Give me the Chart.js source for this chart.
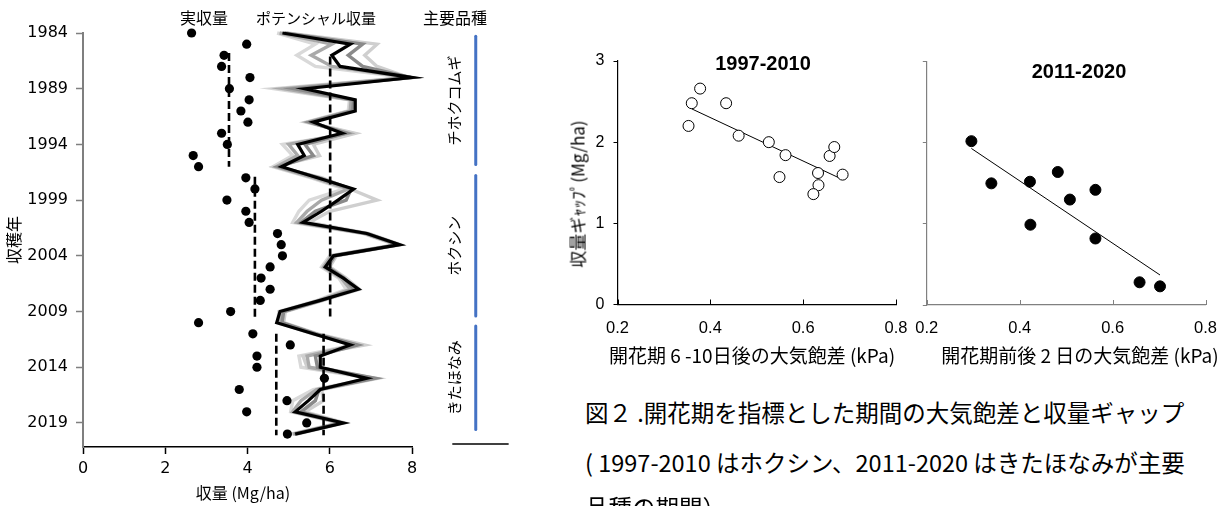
<!DOCTYPE html>
<html>
<head>
<meta charset="utf-8">
<script src="https://cdn.jsdelivr.net/npm/chart.js@4.4.1/dist/chart.umd.min.js"></script>
<style>
  html, body { margin: 0; padding: 0; background: #fff; }
  body { width: 1223px; height: 506px; position: relative; overflow: hidden;
         font-family: "Noto Sans CJK JP", "Liberation Sans", sans-serif; color: #000; }
  canvas { position: absolute; }
  .t { position: absolute; white-space: nowrap; line-height: 1; transform: translate(-50%, -50%); }
  .r { position: absolute; white-space: nowrap; line-height: 1; transform: translate(-50%, -50%) rotate(-90deg); }
  .cap { position: absolute; left: 585px; white-space: nowrap; line-height: 1; font-size: 23.5px;
         transform: translateY(-50%); }
  .num { font-family: "Liberation Sans", Arial, sans-serif; font-weight: bold; font-size: 20px; }
</style>
</head>
<body>
<canvas id="yield" width="520" height="506" style="left:0;top:0"></canvas>
<canvas id="gap9710" width="380" height="330" style="left:540px;top:40px"></canvas>
<canvas id="gap1120" width="343" height="330" style="left:880px;top:40px"></canvas>

<div class="t" style="left:204px;top:17px;font-size:16px">実収量</div>
<div class="t" style="left:316px;top:17px;font-size:15px">ポテンシャル収量</div>
<div class="t" style="left:455px;top:17px;font-size:16px">主要品種</div>
<div class="r" style="left:13px;top:240px;font-size:16px">収穫年</div>
<div class="t" style="left:243px;top:492px;font-size:16px">収量 (Mg/ha)</div>

<div class="t num" style="left:763px;top:63px">1997-2010</div>
<div class="t num" style="left:1079px;top:71px">2011-2020</div>
<div class="r" style="left:577px;top:194px;font-size:17px">収量ギｬｯﾌﾟ(Mg/ha)</div>
<div class="t" style="left:752px;top:354px;font-size:19px">開花期 6 -10日後の大気飽差 (kPa)</div>
<div class="t" style="left:1080px;top:354px;font-size:19px">開花期前後 2 日の大気飽差 (kPa)</div>

<div class="cap" style="top:413px">図２ .開花期を指標とした期間の大気飽差と収量ギャップ</div>
<div class="cap" style="top:463px">( 1997-2010 はホクシン、2011-2020 はきたほなみが主要</div>
<div class="cap" style="top:508px">品種の期間）</div>

<script>
// ---- Harvest years and yields (Mg/ha) ----
const years = [1984,1985,1986,1987,1988,1989,1990,1991,1992,1993,1994,1995,1996,1997,1998,1999,2000,2001,2002,
               2003,2004,2005,2006,2007,2008,2009,2010,2011,2012,2013,2014,2015,2016,2017,2018,2019,2020];
const yearTicks = [1984,1989,1994,1999,2004,2009,2014,2019];
const yieldTicks = [0,2,4,6,8];

const actualYield = [2.64,3.98,3.43,3.37,4.06,3.56,4.04,3.84,4.01,3.37,3.51,2.68,2.81,3.96,4.18,3.50,3.96,4.04,4.73,
                     4.82,4.85,4.55,4.33,4.55,4.31,3.59,2.81,4.13,5.04,4.23,4.23,5.87,3.80,4.96,3.98,5.44,4.97];

// potential yield (main estimate)
const potentialYield = [4.85,6.50,6.05,6.25,8.00,5.40,6.62,6.62,5.60,6.30,5.22,5.38,4.83,5.70,6.58,6.20,5.80,5.35,6.90,
                        7.70,6.09,5.89,6.33,6.70,5.77,4.79,4.71,5.60,6.50,5.77,5.77,6.90,5.77,5.48,5.16,6.33,5.16];
// potential yield under alternative parameter settings
const potentialAltA = [4.72,5.65,5.20,5.65,7.90,4.65,6.48,6.45,5.42,6.55,4.85,5.10,4.62,5.55,6.35,5.50,5.25,5.10,6.82,
                       7.60,6.00,5.80,6.22,6.40,5.70,4.76,4.74,5.58,6.58,5.25,5.30,7.00,5.60,5.10,5.05,6.22,5.05];
const potentialAltB = [4.78,6.05,5.55,6.05,7.95,4.90,6.52,6.50,5.48,6.45,5.00,5.22,4.70,5.62,6.45,5.80,5.45,5.20,6.86,
                       7.64,6.04,5.85,6.28,6.50,5.74,4.82,4.78,5.62,6.62,5.45,5.50,7.05,5.68,5.30,5.10,6.26,5.10];
const potentialAltC = [4.90,6.80,6.45,6.80,7.98,5.15,6.58,6.56,5.52,6.40,5.40,5.60,4.76,5.75,6.52,6.40,5.65,5.30,6.92,
                       7.68,6.12,5.95,6.35,6.60,5.80,4.88,4.84,5.66,6.68,5.65,5.70,7.10,5.74,5.65,5.30,6.30,5.14];
const potentialAltD = [4.95,7.15,6.85,7.15,7.92,4.80,6.50,6.48,5.46,6.62,5.60,5.75,4.68,5.82,6.50,7.15,6.00,5.50,6.96,
                       7.72,6.16,6.00,6.40,6.72,5.84,4.92,4.88,5.70,6.85,5.35,5.45,7.15,5.80,5.85,5.40,6.36,5.20];

// period means (value, first year, last year)
const actualMeans = [3.55, 4.18, 4.70];
const actualMeanFrom = [1985.8, 1996.9, 2011.0];
const actualMeanTo = [1996.0, 2009.8, 2020.1];
const potentialMeans = [6.01, 5.85];
const potentialMeanFrom = [1986.1, 2011.0];
const potentialMeanTo = [2009.8, 2020.1];

// main cultivars and their periods
const cultivars = ['チホクコムギ', 'ホクシン', 'きたほなみ'];
const cultivarFrom = [1984.3, 1996.8, 2010.3];
const cultivarTo = [1995.8, 2009.4, 2019.6];

// ---- Vapour pressure deficit vs. yield gap ----
const vpdTicks = [0.2, 0.4, 0.6, 0.8];
const gapTicks = [0, 1, 2, 3];
const vpd9710 = [0.353,0.360,0.378,0.434,0.461,0.526,0.562,0.549,0.632,0.633,0.622,0.657,0.667,0.685];
const gap9710 = [2.20,2.48,2.66,2.48,2.08,2.00,1.84,1.57,1.62,1.47,1.36,1.83,1.94,1.60];
const fit9710X = [0.360, 0.685];
const fit9710Y = [2.41, 1.54];
const vpd1120 = [0.296,0.339,0.422,0.482,0.508,0.563,0.423,0.563,0.658,0.702];
const gap1120 = [2.02,1.50,1.52,1.64,1.30,1.42,0.99,0.82,0.28,0.23];
const fit1120X = [0.296, 0.702];
const fit1120Y = [1.93, 0.37];

// ---------------------------------------------------------------------------
const pts = (xs, ys) => xs.map((x, i) => ({ x: x, y: ys[i] }));
const byYear = vals => vals.map((v, i) => ({ x: v, y: years[i] }));
const vSeg = (v, a, b) => [{ x: v, y: a }, { x: v, y: b }];

const lineDs = (data, color, width) => ({
  data, showLine: true, borderColor: color, borderWidth: width, pointRadius: 0,
  fill: false, clip: false, tension: 0, borderJoinStyle: 'miter'
});
const dashDs = (data) => ({
  data, showLine: true, borderColor: '#000', borderWidth: 2.6, borderDash: [8, 4],
  pointRadius: 0, clip: false
});

const yieldDatasets = [];
yieldDatasets.push({ data: byYear(actualYield), pointRadius: 4.6, pointBackgroundColor: '#000',
                     pointBorderWidth: 0, showLine: false, clip: false });
actualMeans.forEach((m, i) => yieldDatasets.push(dashDs(vSeg(m, actualMeanFrom[i], actualMeanTo[i]))));
potentialMeans.forEach((m, i) => yieldDatasets.push(dashDs(vSeg(m, potentialMeanFrom[i], potentialMeanTo[i]))));
yieldDatasets.push(lineDs(byYear(potentialYield), '#000', 3.2));
yieldDatasets.push(lineDs(byYear(potentialAltC), '#8a8a8a', 3.4));
yieldDatasets.push(lineDs(byYear(potentialAltB), '#a9a9a9', 3.4));
yieldDatasets.push(lineDs(byYear(potentialAltD), '#cfcfcf', 3.4));
yieldDatasets.push(lineDs(byYear(potentialAltA), '#d9d9d9', 3.4));

// cultivar column to the right of the yield plot
const cultivarColumn = {
  id: 'cultivarColumn',
  afterDraw(chart) {
    const { ctx, scales: { x, y }, chartArea } = chart;
    const barX = x.getPixelForValue(9.55);
    const labelX = x.getPixelForValue(9.03);
    ctx.save();
    ctx.lineCap = 'round';
    cultivars.forEach((name, i) => {
      const y1 = y.getPixelForValue(cultivarFrom[i]);
      const y2 = y.getPixelForValue(cultivarTo[i]);
      ctx.strokeStyle = '#4472C4';
      ctx.lineWidth = 3;
      ctx.beginPath(); ctx.moveTo(barX, y1); ctx.lineTo(barX, y2); ctx.stroke();
      ctx.save();
      ctx.translate(labelX, (y1 + y2) / 2);
      ctx.rotate(-Math.PI / 2);
      ctx.fillStyle = '#000';
      ctx.font = '15px "Noto Sans CJK JP"';
      ctx.textAlign = 'center';
      ctx.textBaseline = 'middle';
      ctx.fillText(name, 0, 0);
      ctx.restore();
    });
    ctx.strokeStyle = '#000';
    ctx.lineWidth = 1.6;
    ctx.lineCap = 'butt';
    const baseY = chartArea.bottom - 3;
    ctx.beginPath();
    ctx.moveTo(x.getPixelForValue(8.98), baseY);
    ctx.lineTo(x.getPixelForValue(10.35), baseY);
    ctx.stroke();
    ctx.restore();
  }
};

new Chart(document.getElementById('yield'), {
  type: 'scatter',
  data: { datasets: yieldDatasets },
  options: {
    responsive: false, animation: false, events: [],
    layout: { padding: { left: 0, top: 33, right: 108, bottom: 0 } },
    plugins: { legend: { display: false }, tooltip: { enabled: false } },
    scales: {
      x: {
        type: 'linear', min: 0, max: 8,
        afterBuildTicks: s => { s.ticks = yieldTicks.map(v => ({ value: v })); },
        afterFit: s => { s.height = 59; },
        ticks: { color: '#000', font: { family: 'DejaVu Sans', size: 16 }, padding: 5, callback: v => String(v) },
        grid: { drawOnChartArea: false, tickLength: 7, color: '#000', tickWidth: 1.5 },
        border: { color: '#000', width: 1.6 }
      },
      y: {
        type: 'linear', reverse: true, min: 1984, max: 2021.16,
        afterBuildTicks: s => { s.ticks = yearTicks.map(v => ({ value: v })); },
        afterFit: s => { s.width = 83; },
        ticks: { color: '#000', font: { family: 'DejaVu Sans', size: 16 }, padding: 8, callback: v => String(v) },
        grid: { drawOnChartArea: false, tickLength: 7, color: '#7f7f7f', tickWidth: 1.5 },
        border: { color: '#7f7f7f', width: 2 }
      }
    }
  },
  plugins: [cultivarColumn]
});

// short tick marks pointing up into the plot on the x axis
const innerTicks = {
  id: 'innerTicks',
  afterDraw(chart, args, opts) {
    const { ctx, scales: { x } } = chart;
    ctx.save();
    ctx.strokeStyle = opts.color;
    ctx.lineWidth = 1;
    x.ticks.forEach(t => {
      const px = Math.round(x.getPixelForValue(t.value)) + 0.5;
      ctx.beginPath(); ctx.moveTo(px, x.top); ctx.lineTo(px, x.top - 5); ctx.stroke();
    });
    ctx.restore();
  }
};

function gapChart(id, xs, ys, fx, fy, filled, axisColor, showYLabels, yWidth, padTop, padRight, xHeight) {
  return new Chart(document.getElementById(id), {
    type: 'scatter',
    data: {
      datasets: [
        { data: pts(xs, ys), pointRadius: 5.5, pointBorderWidth: 1, pointBorderColor: '#000',
          pointBackgroundColor: filled ? '#000' : '#fff', showLine: false, clip: false },
        { data: pts(fx, fy), showLine: true, borderColor: '#000', borderWidth: 1, pointRadius: 0, clip: false }
      ]
    },
    options: {
      responsive: false, animation: false, events: [],
      layout: { padding: { left: 0, top: padTop, right: padRight, bottom: 0 } },
      plugins: { legend: { display: false }, tooltip: { enabled: false }, innerTicks: { color: axisColor } },
      scales: {
        x: {
          type: 'linear', min: 0.2, max: 0.8,
          afterBuildTicks: s => { s.ticks = vpdTicks.map(v => ({ value: v })); },
          afterFit: s => { s.height = xHeight; },
          ticks: { color: '#000', font: { family: 'Liberation Sans', size: 16.5 }, padding: 6,
                   callback: v => v.toFixed(1) },
          grid: { display: false },
          border: { color: axisColor, width: 1.2 }
        },
        y: {
          type: 'linear', min: 0, max: 3,
          afterBuildTicks: s => { s.ticks = gapTicks.map(v => ({ value: v })); },
          afterFit: s => { s.width = yWidth; },
          ticks: { color: showYLabels ? '#000' : 'rgba(0,0,0,0)', font: { family: 'Liberation Sans', size: 16 },
                   padding: 9, callback: v => String(v) },
          grid: { drawOnChartArea: false, tickLength: 4, color: axisColor },
          border: { color: axisColor, width: 1.2 }
        }
      }
    },
    plugins: [innerTicks]
  });
}

gapChart('gap9710', vpd9710, gap9710, fit9710X, fit9710Y, false, '#000', true, 77.5, 21, 24, 65.5);
gapChart('gap1120', vpd1120, gap1120, fit1120X, fit1120Y, true, '#808080', false, 46.8, 21.7, 10, 65);
</script>
</body>
</html>
